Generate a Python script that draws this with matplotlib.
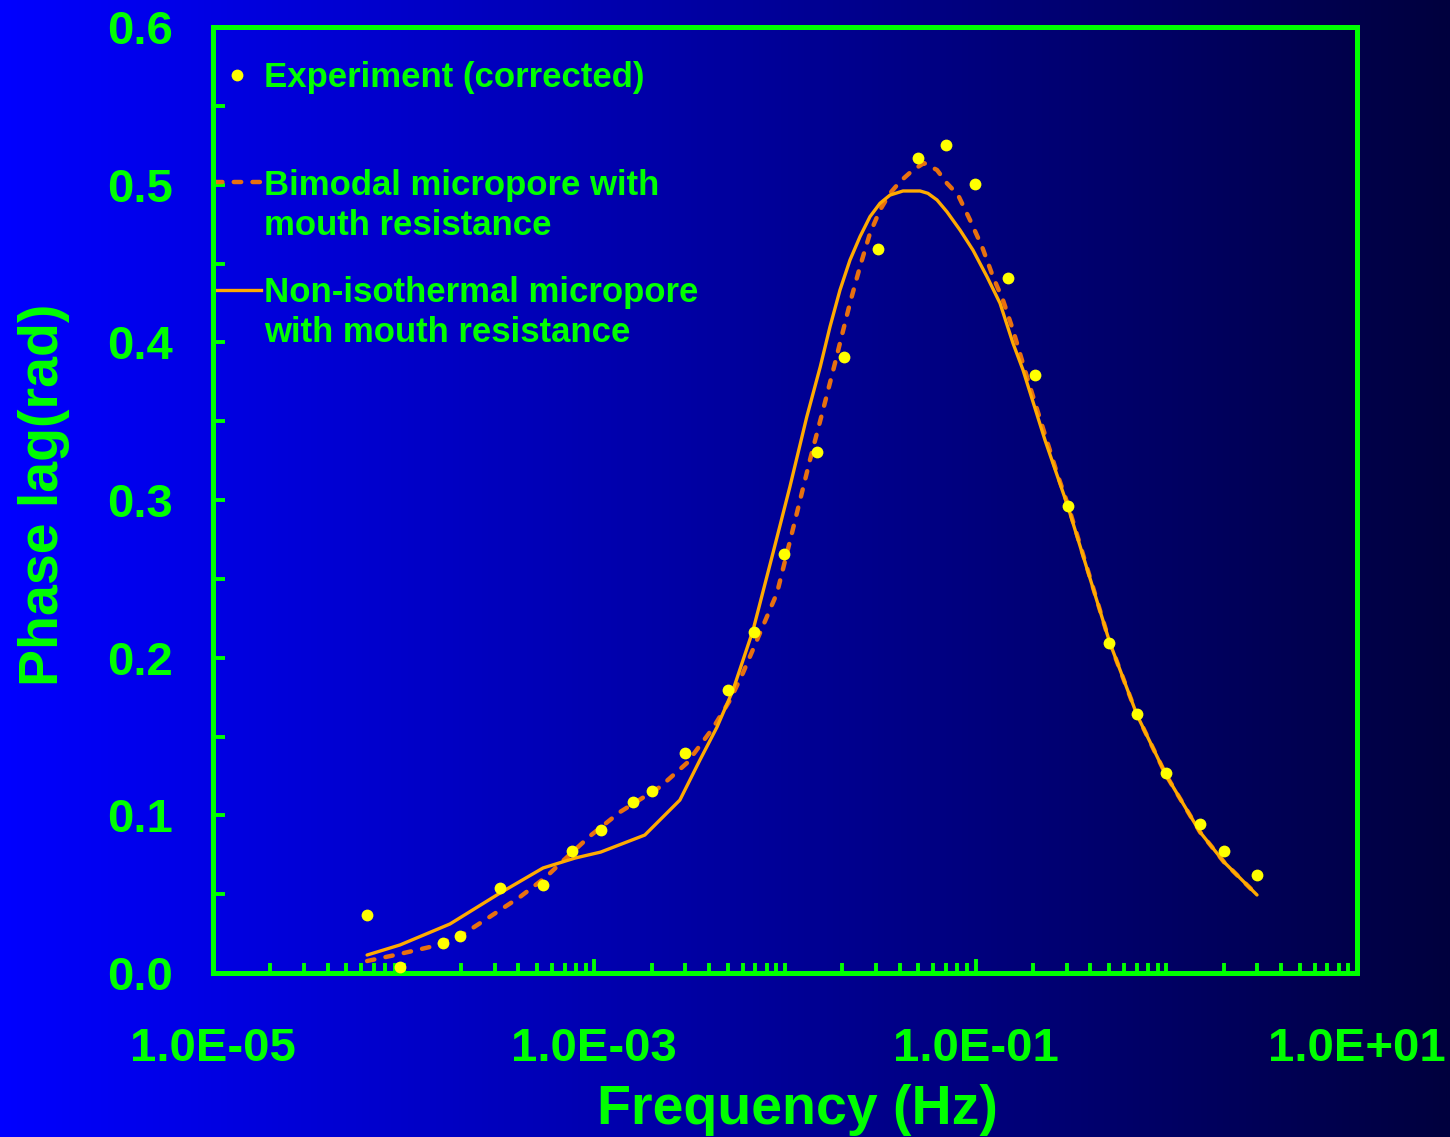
import numpy as np
import matplotlib
matplotlib.use("Agg")
import matplotlib.pyplot as plt
from matplotlib.colors import LinearSegmentedColormap
from matplotlib.ticker import FixedLocator, LogLocator, MultipleLocator, FuncFormatter, NullFormatter

# experiment (corrected)
freq_exp = [6.4e-5, 9.6e-5, 1.6e-4, 1.97e-4, 3.2e-4, 5.4e-4, 7.6e-4, 1.08e-3,
            1.6e-3, 2.0e-3, 3.0e-3, 5.0e-3, 6.9e-3, 9.9e-3, 0.0147, 0.0204,
            0.0308, 0.0498, 0.0698, 0.099, 0.148, 0.205, 0.305, 0.50, 0.70,
            1.0, 1.5, 2.0, 3.0]
phase_exp = [0.0368, 0.0040, 0.0192, 0.0237, 0.0539, 0.0558, 0.0776, 0.0909,
             0.1085, 0.1154, 0.1395, 0.1795, 0.2163, 0.2657, 0.3306, 0.3910,
             0.4590, 0.5169, 0.5250, 0.5002, 0.4406, 0.3790, 0.2964, 0.2091,
             0.1645, 0.1266, 0.0945, 0.0774, 0.0622]

# bimodal micropore with mouth resistance
freq_bimodal = [6.43e-5, 9.01e-5, 1.374e-4, 2.02e-4, 2.77e-4, 4.07e-4, 5.58e-4,
                6.93e-4, 9.49e-4, 1.363e-3, 2.21e-3, 3.06e-3, 4.19e-3, 5.15e-3,
                6.02e-3, 7.39e-3, 9.08e-3, 0.01088, 0.01352, 0.01583, 0.0183,
                0.01943, 0.02192, 0.02473, 0.02791, 0.0315, 0.03554, 0.04009,
                0.0469, 0.05358, 0.0627, 0.0707, 0.0808, 0.0934, 0.1080,
                0.1233, 0.1391, 0.1570, 0.1858, 0.267, 0.305, 0.506,
                0.702, 0.996, 1.502, 2.006, 2.989]
phase_bimodal = [0.0076, 0.0114, 0.0165, 0.0241, 0.0349, 0.0482, 0.0609,
                 0.0717, 0.0869, 0.1021, 0.1180, 0.1332, 0.1554, 0.1731,
                 0.1903, 0.2156, 0.2410, 0.2791, 0.3254, 0.3571, 0.3869,
                 0.3996, 0.4249, 0.4480, 0.4692, 0.4839, 0.4945, 0.5019,
                 0.5093, 0.5137, 0.5093, 0.5009, 0.4935, 0.4776, 0.4607,
                 0.4416, 0.4268, 0.4078, 0.3780, 0.3171,
                 0.2968, 0.2093, 0.1636, 0.1256, 0.0894, 0.0704, 0.0495]

# non-isothermal micropore with mouth resistance
freq_noniso = [6.43e-5, 9.57e-5, 1.75e-4, 3.2e-4, 5.38e-4, 7.92e-4, 1.08e-3,
               1.84e-3, 2.81e-3, 3.58e-3, 4.40e-3, 5.34e-3, 6.80e-3, 8.65e-3,
               0.0106, 0.0130, 0.0153, 0.01722, 0.01943, 0.02192, 0.02473,
               0.02791, 0.0315, 0.03554, 0.04158, 0.0511, 0.0562, 0.0627,
               0.0707, 0.0828, 0.0968, 0.1147, 0.1342, 0.1570, 0.1771, 0.2310,
               0.305, 0.506, 0.702, 0.996, 1.502, 2.006, 2.989]
phase_noniso = [0.0114, 0.0178, 0.0311, 0.0507, 0.0666, 0.0729, 0.0767,
                0.0875, 0.1097, 0.1351, 0.1560, 0.1795, 0.2175, 0.2664,
                0.3082, 0.3526, 0.3844, 0.4099, 0.4332, 0.4522, 0.4670,
                0.4797, 0.4882, 0.4934, 0.4960, 0.4960, 0.4945, 0.4903,
                0.4828, 0.4712, 0.4585, 0.4416, 0.4248, 0.3994, 0.3825, 0.3380,
                0.2956, 0.2093, 0.1636, 0.1256, 0.0894, 0.0704, 0.0495]

xtick_vals = [1e-5, 1e-3, 1e-1, 1e1]
legend_labels = ["Experiment (corrected)",
                 ["Bimodal micropore with", "mouth resistance"],
                 ["Non-isothermal micropore", "with mouth resistance"]]

green = "#00FF00"
c_exp = "#FFFF00"
c_bim = "#E8700F"
c_non = "#FFAA00"

plt.rcParams["font.family"] = ["Liberation Sans", "DejaVu Sans"]
plt.rcParams["font.weight"] = "bold"

fig = plt.figure(figsize=(14.5, 11.37), dpi=100)

# background gradient, bright blue to dark navy
bg = fig.add_axes([0, 0, 1, 1], zorder=-10)
cmap = LinearSegmentedColormap.from_list("bg", ["#0000FF", "#00003E"])
bg.imshow(np.linspace(0, 1, 512)[None, :], aspect="auto", cmap=cmap,
          extent=[0, 1, 0, 1])
bg.axis("off")

ax = fig.add_axes([213 / 1450, 1 - 973 / 1137, 1144 / 1450, 946 / 1137])
ax.set_facecolor("none")
ax.set_xscale("log")

dash = (1.67, 2.55)
ax.plot(freq_bimodal, phase_bimodal, color=c_bim, lw=3.2, dashes=dash,
        dash_capstyle="round", zorder=3)
ax.plot(freq_noniso, phase_noniso, color=c_non, lw=2.4,
        solid_capstyle="round", solid_joinstyle="round", zorder=4)
ax.plot(freq_exp, phase_exp, "o", color=c_exp, ms=8.5, mec="none",
        clip_on=False, zorder=5)

ax.set_xlim(1e-5, 1e1)
ax.set_ylim(0, 0.6)

for s in ax.spines.values():
    s.set_color(green)
    s.set_linewidth(3.6)

ax.xaxis.set_major_locator(FixedLocator(xtick_vals))
ax.xaxis.set_minor_locator(LogLocator(base=10, subs=np.arange(1, 10), numticks=60))
ax.xaxis.set_major_formatter(FuncFormatter(lambda v, p: f"{v:.1E}"))
ax.xaxis.set_minor_formatter(NullFormatter())
ax.yaxis.set_major_locator(MultipleLocator(0.1))
ax.yaxis.set_minor_locator(MultipleLocator(0.05))
ax.yaxis.set_major_formatter(FuncFormatter(lambda v, p: f"{v:.1f}"))

ax.tick_params(axis="x", which="major", direction="in", length=10, width=2.8,
               color=green, labelcolor=green, labelsize=34, pad=39, top=False)
ax.tick_params(axis="x", which="minor", direction="in", length=7, width=2.8,
               color=green, top=False)
ax.tick_params(axis="y", which="both", direction="in", length=8.5, width=2.8,
               color=green, right=False)
ax.tick_params(axis="y", which="major", labelcolor=green, labelsize=34, pad=29)

ax.set_xlabel("Frequency (Hz)", fontsize=40, color=green, fontweight="bold")
ax.set_ylabel("Phase lag(rad)", fontsize=40, color=green, fontweight="bold")
ax.xaxis.set_label_coords(0.5105, -0.1173)
ax.yaxis.set_label_coords(-0.1246, 0.5053)

# legend drawn by hand so keys sit on the first text line
tr = ax.transAxes
ax.plot([0.0206], [0.9493], "o", color=c_exp, ms=8.5, mec="none",
        transform=tr, clip_on=False)
ax.plot([0.0017, 0.0420], [0.8362, 0.8362], color=c_bim, lw=3.2,
        dashes=dash, dash_capstyle="round", transform=tr, clip_on=False)
ax.plot([0.0017, 0.0420], [0.7220, 0.7220], color=c_non, lw=2.4,
        transform=tr, clip_on=False)
tx = 0.0446
ax.text(tx, 0.9366, legend_labels[0], transform=tr, va="baseline",
        fontsize=25, color=green, fontweight="bold")
ax.text(tx, 0.8224, legend_labels[1][0], transform=tr, va="baseline",
        fontsize=25, color=green, fontweight="bold")
ax.text(tx, 0.7801, legend_labels[1][1], transform=tr, va="baseline",
        fontsize=25, color=green, fontweight="bold")
ax.text(tx, 0.7093, legend_labels[2][0], transform=tr, va="baseline",
        fontsize=25, color=green, fontweight="bold")
ax.text(tx, 0.6670, legend_labels[2][1], transform=tr, va="baseline",
        fontsize=25, color=green, fontweight="bold")

fig.savefig("out.png", dpi=100)
